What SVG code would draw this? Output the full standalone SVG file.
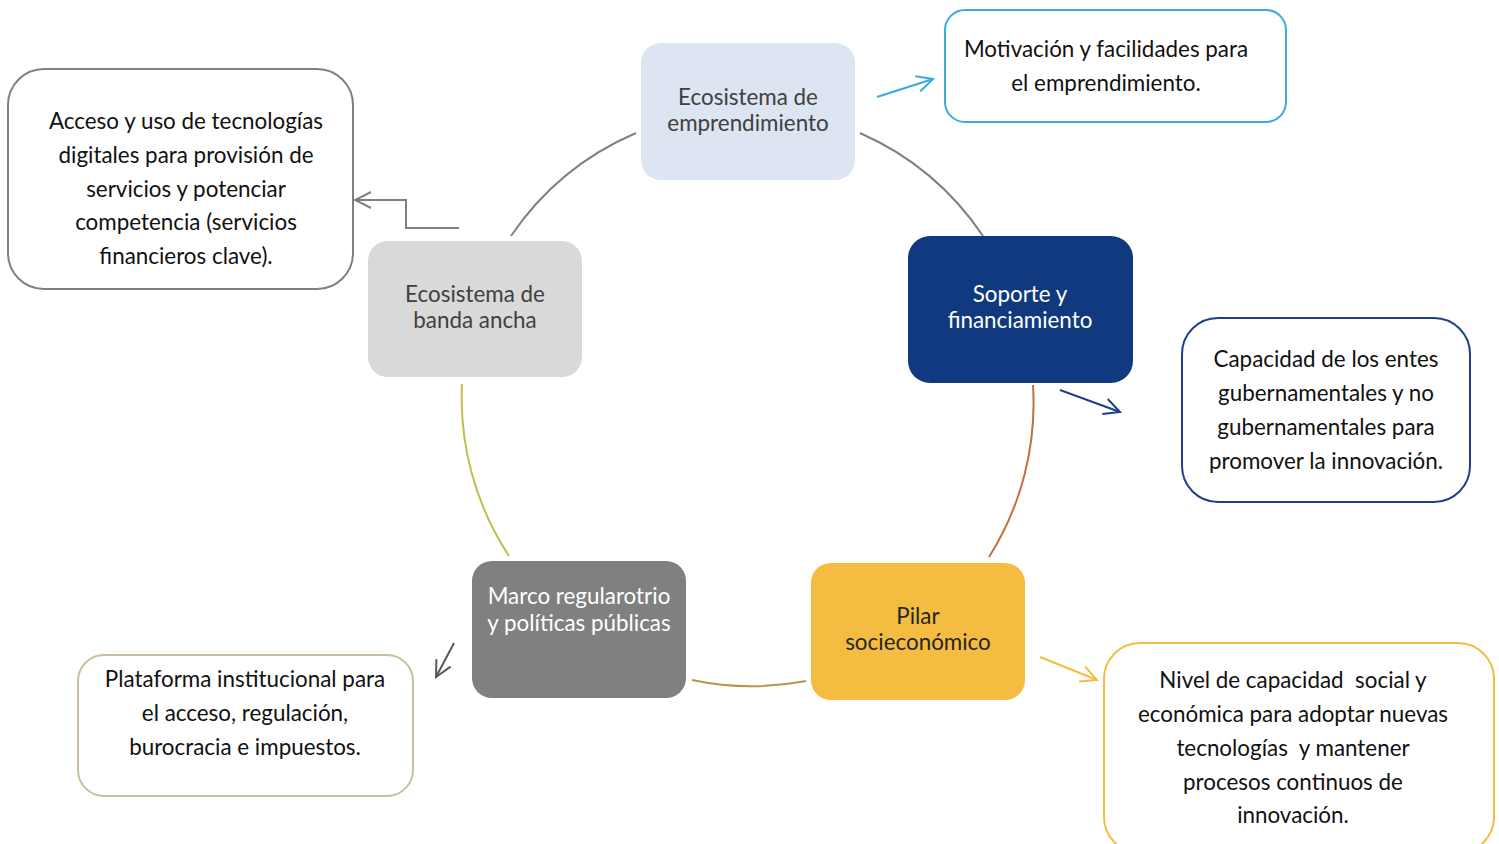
<svg xmlns="http://www.w3.org/2000/svg" width="1499" height="844" viewBox="0 0 1499 844">
<style>
text{font-family:Lato,"Liberation Sans",sans-serif;text-anchor:middle;white-space:pre}
.nt{font-size:22.4px}
.bt{font-size:22.4px;fill:#111}
.box{fill:#fff;stroke-width:2}
.arc{fill:none;stroke-width:2}
.arr{fill:none;stroke-width:2}
</style>
<defs>
<marker id="mBlue" viewBox="0 0 20 20" refX="18" refY="10" markerWidth="20" markerHeight="20" markerUnits="userSpaceOnUse" orient="auto"><path d="M2,2 L18,10 L2,18" fill="none" stroke="#3AACDB" stroke-width="2"/></marker>
<marker id="mNavy" viewBox="0 0 20 20" refX="18" refY="10" markerWidth="20" markerHeight="20" markerUnits="userSpaceOnUse" orient="auto"><path d="M2,2 L18,10 L2,18" fill="none" stroke="#1F3F8A" stroke-width="2"/></marker>
<marker id="mYel" viewBox="0 0 20 20" refX="18" refY="10" markerWidth="20" markerHeight="20" markerUnits="userSpaceOnUse" orient="auto"><path d="M2,2 L18,10 L2,18" fill="none" stroke="#F4BC41" stroke-width="2"/></marker>
<marker id="mGray" viewBox="0 0 20 20" refX="18" refY="10" markerWidth="20" markerHeight="20" markerUnits="userSpaceOnUse" orient="auto"><path d="M2,2 L18,10 L2,18" fill="none" stroke="#808080" stroke-width="2"/></marker>
<marker id="mDark" viewBox="0 0 20 20" refX="18" refY="10" markerWidth="20" markerHeight="20" markerUnits="userSpaceOnUse" orient="auto"><path d="M2,2 L18,10 L2,18" fill="none" stroke="#595959" stroke-width="2"/></marker>
</defs>

<g id="connectors">
<path class="arc" stroke="#808080" d="M860,133 A288,288 0 0 1 983,236"/>
<path class="arc" stroke="#808080" d="M511,236 A288,288 0 0 1 636,133"/>
<path class="arc" stroke="#C0703A" d="M1033,385 A288,288 0 0 1 989,557"/>
<path class="arc" stroke="#B8954A" d="M806,681 A288,288 0 0 1 692,680"/>
<path class="arc" stroke="#BFBF4F" d="M509,556 A288,288 0 0 1 462,384"/>
<path class="arr" stroke="#3AACDB" d="M877,97 L933,79" marker-end="url(#mBlue)"/>
<path class="arr" stroke="#1F3F8A" d="M1060,390 L1120,412" marker-end="url(#mNavy)"/>
<path class="arr" stroke="#F4BC41" d="M1040,657 L1097,680" marker-end="url(#mYel)"/>
<path class="arr" stroke="#808080" d="M459,228 L406,228 L406,200 L355,200" marker-end="url(#mGray)"/>
<path class="arr" stroke="#595959" d="M454,643 L436,677" marker-end="url(#mDark)"/>
</g>

<g id="n-emprendimiento">
<rect x="641" y="43" width="214" height="137" rx="20" fill="#DCE5F1"/>
<text class="nt" fill="#404040" x="748" y="105">Ecosistema de</text>
<text class="nt" fill="#404040" x="748" y="131">emprendimiento</text>
</g>
<g id="d-motivacion">
<rect class="box" x="945" y="10" width="341" height="112" rx="20" stroke="#3AACDB"/>
<text class="bt" x="1106" y="57">Motivación y facilidades para</text>
<text class="bt" x="1106" y="91">el emprendimiento.</text>
</g>

<g id="n-banda">
<rect x="368" y="241" width="214" height="136" rx="20" fill="#D9D9D9"/>
<text class="nt" fill="#404040" x="475" y="302">Ecosistema de</text>
<text class="nt" fill="#404040" x="475" y="328">banda ancha</text>
</g>
<g id="d-acceso">
<rect class="box" x="8" y="69" width="345" height="220" rx="36" stroke="#808080"/>
<text class="bt" x="186" y="129">Acceso y uso de tecnologías</text>
<text class="bt" x="186" y="163">digitales para provisión de</text>
<text class="bt" x="186" y="197">servicios y potenciar</text>
<text class="bt" x="186" y="230">competencia (servicios</text>
<text class="bt" x="186" y="264">financieros clave).</text>
</g>

<g id="n-soporte">
<rect x="908" y="236" width="225" height="147" rx="22" fill="#10397F"/>
<text class="nt" fill="#fff" x="1020" y="302">Soporte y</text>
<text class="nt" fill="#fff" x="1020" y="328">financiamiento</text>
</g>
<g id="d-capacidad">
<rect class="box" x="1182" y="318" width="288" height="184" rx="36" stroke="#1F3F8A"/>
<text class="bt" x="1326" y="367">Capacidad de los entes</text>
<text class="bt" x="1326" y="401">gubernamentales y no</text>
<text class="bt" x="1326" y="435">gubernamentales para</text>
<text class="bt" x="1326" y="469">promover la innovación.</text>
</g>

<g id="n-pilar">
<rect x="811" y="563" width="214" height="137" rx="20" fill="#F4BC41"/>
<text class="nt" fill="#262626" x="918" y="624">Pilar</text>
<text class="nt" fill="#262626" x="918" y="650">socieconómico</text>
</g>
<g id="d-nivel">
<rect class="box" x="1104" y="643" width="390" height="210" rx="36" stroke="#F4BC41"/>
<text class="bt" x="1293" y="688">Nivel de capacidad  social y</text>
<text class="bt" x="1293" y="722">económica para adoptar nuevas</text>
<text class="bt" x="1293" y="756">tecnologías  y mantener</text>
<text class="bt" x="1293" y="790">procesos continuos de</text>
<text class="bt" x="1293" y="823">innovación.</text>
</g>

<g id="n-marco">
<rect x="472" y="561" width="214" height="137" rx="20" fill="#808080"/>
<text class="nt" fill="#fff" x="579" y="604">Marco regularotrio</text>
<text class="nt" fill="#fff" x="579" y="631">y políticas públicas</text>
</g>
<g id="d-plataforma">
<rect class="box" x="78" y="655" width="335" height="141" rx="26" stroke="#C9BF99"/>
<text class="bt" x="245" y="687">Plataforma institucional para</text>
<text class="bt" x="245" y="721">el acceso, regulación,</text>
<text class="bt" x="245" y="755">burocracia e impuestos.</text>
</g>
</svg>
